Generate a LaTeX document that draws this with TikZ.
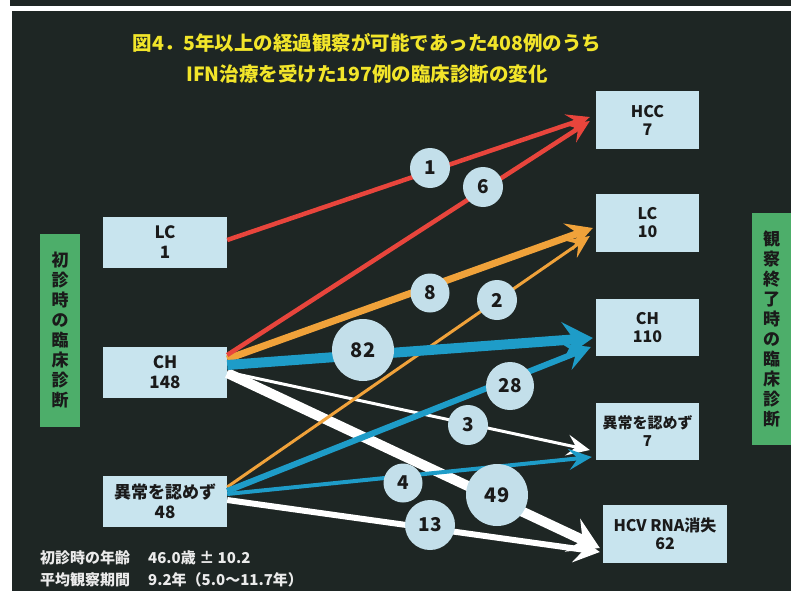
\documentclass[tikz,border=0pt]{standalone}
\usepackage{fontspec}
\setmainfont{Noto Sans CJK JP}
\usetikzlibrary{arrows.meta,calc}
\definecolor{panel}{HTML}{1E2624}
\definecolor{boxblue}{HTML}{C8E4EE}
\definecolor{greenbox}{HTML}{4DAE6A}
\definecolor{titley}{HTML}{F2E52A}
\definecolor{redA}{HTML}{E8453C}
\definecolor{orangeA}{HTML}{F0A23A}
\definecolor{blueA}{HTML}{1E9CC8}
\definecolor{circ}{HTML}{C3DFEA}
\definecolor{ink}{HTML}{1A1A1A}
\begin{document}
\begin{tikzpicture}[x=1pt,y=-1pt,
  box/.style={fill=boxblue, inner sep=0pt, align=center, text=ink,
    font=\bfseries\fontsize{17}{20}\selectfont},
  lbox/.style={box, minimum width=124pt, minimum height=51pt},
  rbox/.style={box, minimum width=103pt, minimum height=57pt,
    font=\bfseries\fontsize{16}{18}\selectfont},
  vbox/.style={fill=greenbox, inner sep=0pt, align=center, text=ink,
    font=\bfseries\fontsize{17}{20}\selectfont},
  num/.style={circle, fill=circ, inner sep=0pt, text=ink,
    font=\bfseries\fontsize{19}{20}\selectfont},
  tipS/.style={-{Stealth[length=23pt,width=21pt,inset=9pt]}},
  tipM/.style={-{Stealth[length=26pt,width=28pt,inset=10pt]}},
  tipL/.style={-{Stealth[length=30pt,width=36pt,inset=11pt]}},
  flow/.style={line cap=butt}
]
\useasboundingbox (0,0) rectangle (791,591);
% background
\fill[white] (0,0) rectangle (791,591);
\fill[panel] (10,0) rectangle (791,6);
\fill[panel] (12,11) rectangle (791,591);

% title
\node[text=titley, align=center, font=\bfseries\fontsize{19.5}{31}\selectfont] (title) at (367,58.5)
  {図4．5年以上の経過観察が可能であった408例のうち\\IFN治療を受けた197例の臨床診断の変化};

% side labels
\node[vbox, minimum width=40pt, minimum height=193pt] (lside) at (60,330.5)
  {初\\診\\時\\の\\臨\\床\\診\\断};
\node[vbox, minimum width=39pt, minimum height=232pt] (rside) at (771.5,329)
  {観\\察\\終\\了\\時\\の\\臨\\床\\診\\断};

% left boxes
\node[lbox] (lc1) at (165,242.5) {LC\\1};
\node[lbox] (ch1) at (165,372) {CH\\148};
\node[lbox] (nn1) at (165,501.5) {異常を認めず\\48};

% right boxes
\node[rbox] (hcc) at (647.5,120) {HCC\\7};
\node[rbox, minimum height=58pt] (lc2) at (647.5,223) {LC\\10};
\node[rbox] (ch2) at (647.5,327.5) {CH\\110};
\node[rbox, font=\bfseries\fontsize{15}{18}\selectfont] (nn2) at (647.5,431) {異常を認めず\\7};
\node[rbox, minimum width=124pt, minimum height=58pt] (hcv) at (665,534) {HCV RNA消失\\62};

% connectors: white
\draw[flow, white, line width=10pt, tipL] ($(ch1.east)+(0,1)$) -- ($(hcv.west)+(-3,14)$);
\draw[flow, white, line width=3pt, tipS] ($(ch1.east)+(0,0)$) -- ($(nn2.west)+(-6,19)$);
\draw[flow, white, line width=6pt, tipM] ($(nn1.east)+(0,-1.5)$) -- ($(hcv.west)+(-3,18)$);
% orange
\draw[flow, orangeA, line width=3pt, tipS] ($(nn1.east)+(0,-14.5)$) -- ($(lc2.west)+(-6,13)$);
\draw[flow, orangeA, line width=7pt, tipM] ($(ch1.east)+(0,-13)$) -- ($(lc2.west)+(-3,5)$);
% blue
\draw[flow, blueA, line width=4pt, tipS] ($(nn1.east)+(0,-7.5)$) -- ($(nn2.west)+(-4,26)$);
\draw[flow, blueA, line width=6pt, tipM] ($(nn1.east)+(0,-10.5)$) -- ($(ch2.west)+(-5,19.5)$);
\draw[flow, blueA, line width=10pt, tipL] ($(ch1.east)+(0,-7)$) -- ($(ch2.west)+(-3,10.5)$);
% red
\draw[flow, redA, line width=4.5pt, tipS] ($(lc1.east)+(0,-2.5)$) -- ($(hcc.west)+(-6,-3)$);
\draw[flow, redA, line width=4.5pt, tipS] ($(ch1.east)+(0,-17)$) -- ($(hcc.west)+(-6,1)$);

% number circles
\node[num, minimum size=40pt] (n1) at (430,168) {1};
\node[num, minimum size=40pt] (n6) at (483,187) {6};
\node[num, minimum size=39pt] (n8) at (430,293) {8};
\node[num, minimum size=40pt] (n2) at (497,300) {2};
\node[num, minimum size=62pt, font=\bfseries\fontsize{20}{20}\selectfont] (n82) at (363,350) {82};
\node[num, minimum size=48pt] (n28) at (510,386) {28};
\node[num, minimum size=40pt] (n3) at (468,425) {3};
\node[num, minimum size=39pt] (n4) at (403,483) {4};
\node[num, minimum size=62pt, font=\bfseries\fontsize{20}{20}\selectfont] (n49) at (497,495) {49};
\node[num, minimum size=50pt] (n13) at (430,525) {13};

% footnote
\begin{scope}[every node/.style={anchor=west, text=white!92!black, inner sep=0pt,
    font=\bfseries\fontsize{15}{18}\selectfont}]
\node (f1a) at (40,558) {初診時の年齢};
\node (f1b) at (148,558) {46.0歳 ± 10.2};
\node (f2a) at (40,580) {平均観察期間};
\node (f2b) at (148,580) {9.2年（5.0～11.7年）};
\end{scope}
\end{tikzpicture}
\end{document}
